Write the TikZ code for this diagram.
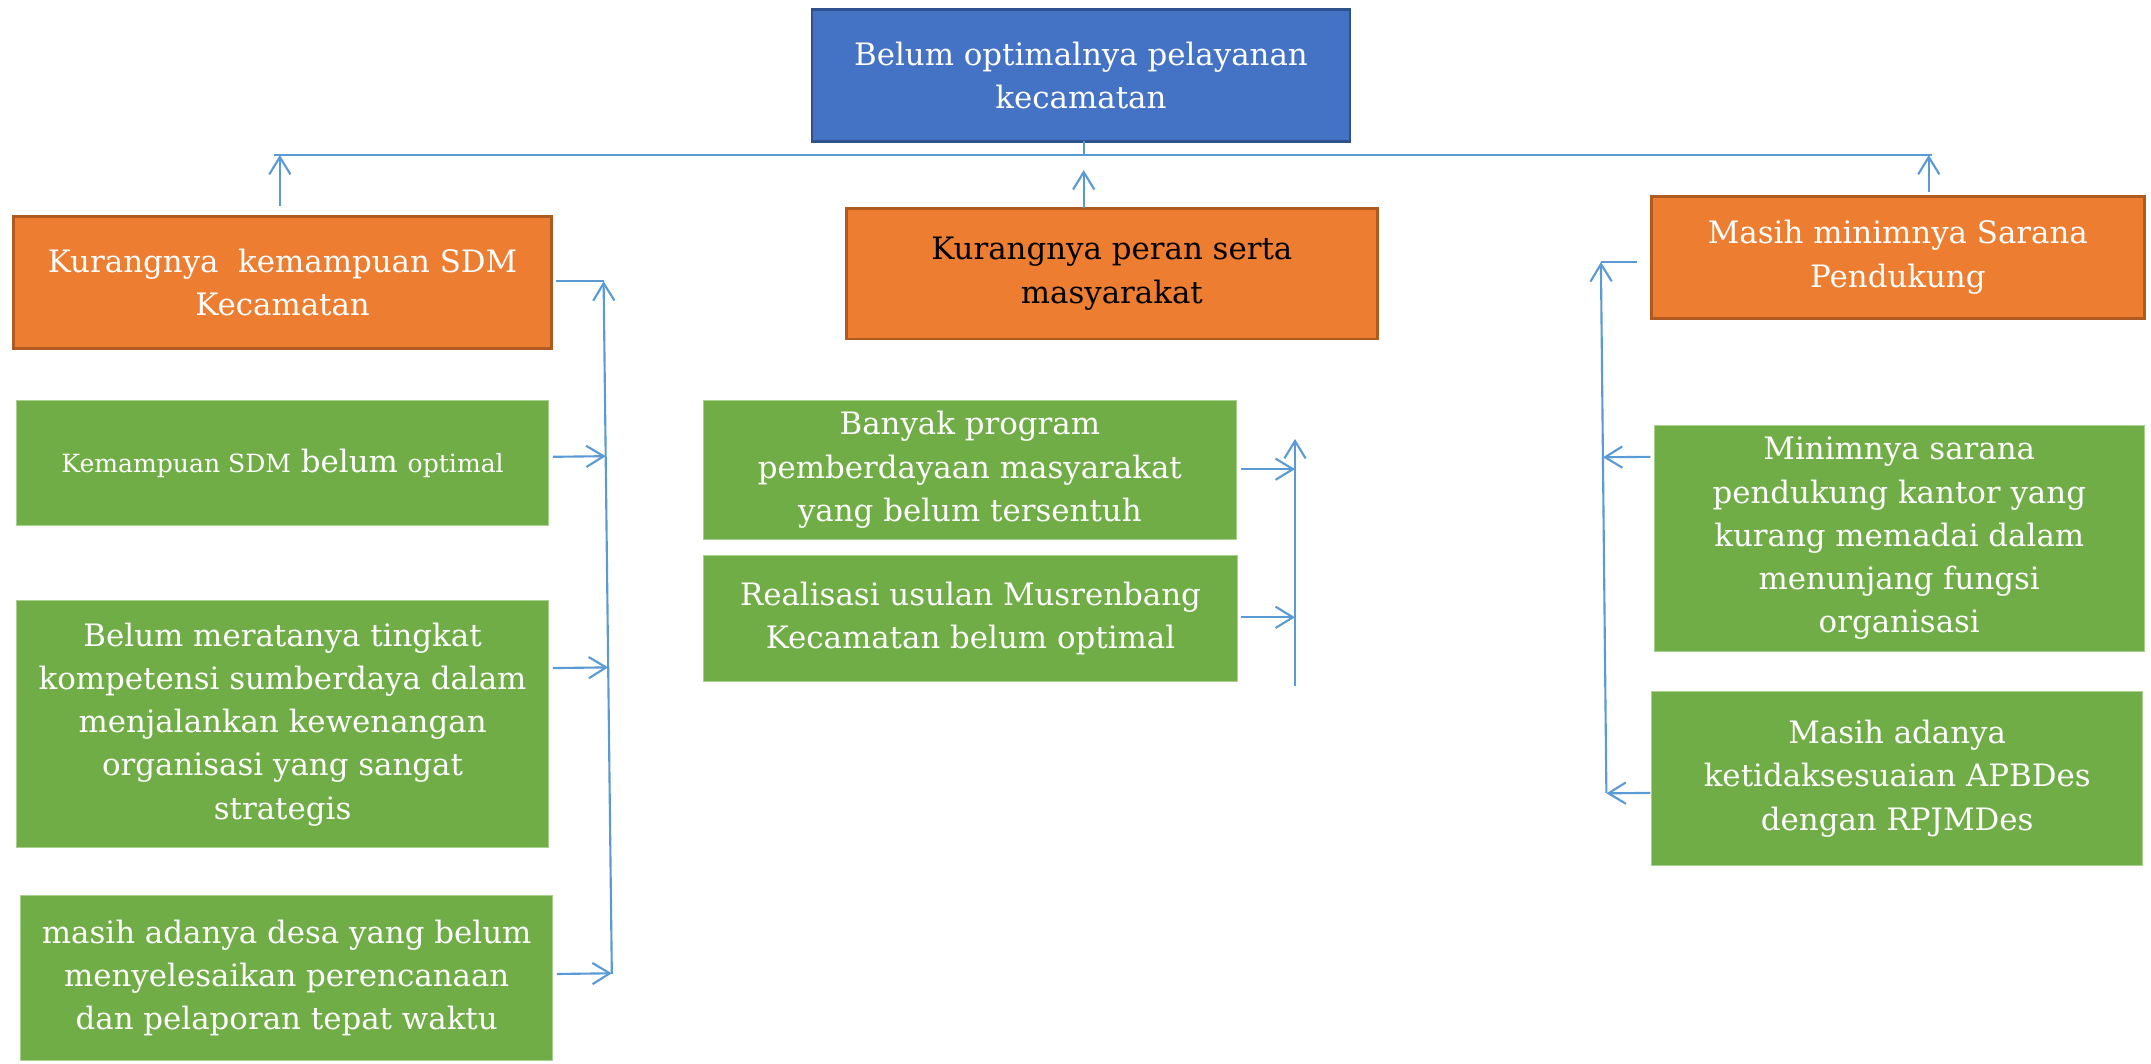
\documentclass[tikz,border=0pt]{standalone}
\usepackage{fontspec}
\setmainfont{DejaVu Serif}
\usetikzlibrary{arrows.meta,calc}
\definecolor{bfill}{HTML}{4472C4}
\definecolor{bdraw}{HTML}{2F528F}
\definecolor{ofill}{HTML}{ED7D31}
\definecolor{odraw}{HTML}{AE5A21}
\definecolor{gfill}{HTML}{70AD47}
\definecolor{gdraw}{HTML}{A9D18E}
\definecolor{lcol}{HTML}{5B9BD5}
\tikzset{
  box/.style={inner sep=0pt, outer sep=0pt, align=center,
    font=\fontsize{16}{22.4}\selectfont, text=white},
  bluebox/.style={box, fill=bfill, draw=bdraw, line width=1.4pt},
  orangebox/.style={box, fill=ofill, draw=odraw, line width=1.4pt},
  greenbox/.style={box, fill=gfill, draw=gdraw, line width=0.6pt},
  conn/.style={draw=lcol, line width=1.1pt},
  arr/.style={conn, -{Straight Barb[length=9pt,width=11pt,line width=1.1pt]}},
}
\begin{document}
\begin{tikzpicture}[x=0.025cm,y=-0.025cm]
\path[use as bounding box, fill=white] (0,0) rectangle (1568,775);

% boxes
\node[bluebox, minimum width=9.8cm, minimum height=2.4cm] (B) at (788,55)
  {Belum optimalnya pelayanan\\kecamatan};
\node[orangebox, minimum width=9.8cm, minimum height=2.4cm] (OL) at (206,206)
  {Kurangnya\ \ kemampuan SDM\\Kecamatan};
\node[orangebox, text=black, minimum width=9.675cm, minimum height=2.375cm] (OM) at (810.5,199.5)
  {Kurangnya peran serta\\masyarakat};
\node[orangebox, minimum width=8.975cm, minimum height=2.225cm] (OR) at (1383.5,187.5)
  {Masih minimnya Sarana\\Pendukung};

\node[greenbox, minimum width=9.7cm, minimum height=2.275cm] (L1) at (206,337.5)
  {{\fontsize{13}{22.4}\selectfont Kemampuan SDM} belum {\fontsize{13}{22.4}\selectfont optimal}};
\node[greenbox, minimum width=9.7cm, minimum height=4.5cm] (L2) at (206,528)
  {Belum meratanya tingkat\\kompetensi sumberdaya dalam\\menjalankan kewenangan\\organisasi yang sangat\\strategis};
\node[greenbox, minimum width=9.7cm, minimum height=3.0cm] (L3) at (209,713)
  {masih adanya desa yang belum\\menyelesaikan perencanaan\\dan pelaporan tepat waktu};
\node[greenbox, minimum width=9.7cm, minimum height=2.525cm] (M1) at (707,342.5)
  {Banyak program\\pemberdayaan masyarakat\\yang belum tersentuh};
\node[greenbox, minimum width=9.725cm, minimum height=2.3cm] (M2) at (707.5,451)
  {Realisasi usulan Musrenbang\\Kecamatan belum optimal};
\node[greenbox, minimum width=8.925cm, minimum height=4.125cm] (R1) at (1384.5,392.5)
  {Minimnya sarana\\pendukung kantor yang\\kurang memadai dalam\\menunjang fungsi\\organisasi};
\node[greenbox, minimum width=8.95cm, minimum height=3.175cm] (R2) at (1383,567.5)
  {Masih adanya\\ketidaksesuaian APBDes\\dengan RPJMDes};

% top connectors
\coordinate (hl) at (200,113);
\coordinate (hr) at (1408,113);
\draw[conn] (hl) -- (hr);
\coordinate (bs) at (790,103);
\draw[conn] (bs) -- (bs |- hl);
\coordinate (a1s) at (204,150);
\draw[arr] (a1s) -- (a1s |- hl);
\coordinate (a2t) at (790,124);
\draw[arr] (OM.north -| a2t) -- (a2t);
\coordinate (a3s) at (1406,140);
\draw[arr] (a3s) -- (a3s |- hl);

% left connector
\coordinate (ls) at (405,205);
\coordinate (lt) at (440,205);
\coordinate (lb) at (446,710);
\draw[conn] (ls) -- (lt);
\draw[arr] (lb) -- (lt);
\coordinate (p1) at (403,333);
\coordinate (p2) at (403,487);
\coordinate (p3) at (406,710);
\draw[arr] (p1) -- ($(lt)!(p1)!(lb)$);
\draw[arr] (p2) -- ($(lt)!(p2)!(lb)$);
\draw[arr] (p3) -- ($(lt)!(p3)!(lb)$);

% middle connector
\coordinate (mt) at (944,320);
\coordinate (mb) at (944,500);
\draw[arr] (mb) -- (mt);
\coordinate (q1) at (905,342);
\coordinate (q2) at (905,450);
\draw[arr] (q1) -- (q1 -| mt);
\draw[arr] (q2) -- (q2 -| mt);

% right connector
\coordinate (rs) at (1193,191);
\coordinate (rt) at (1167,191);
\coordinate (rb) at (1171,578);
\draw[conn] (rs) -- (rt);
\draw[arr] (rb) -- (rt);
\coordinate (r1) at (1203,333);
\coordinate (r2) at (1203,578);
\draw[arr] (r1) -- ($(rt)!(r1)!(rb)$);
\draw[arr] (r2) -- ($(rt)!(r2)!(rb)$);
\end{tikzpicture}
\end{document}
